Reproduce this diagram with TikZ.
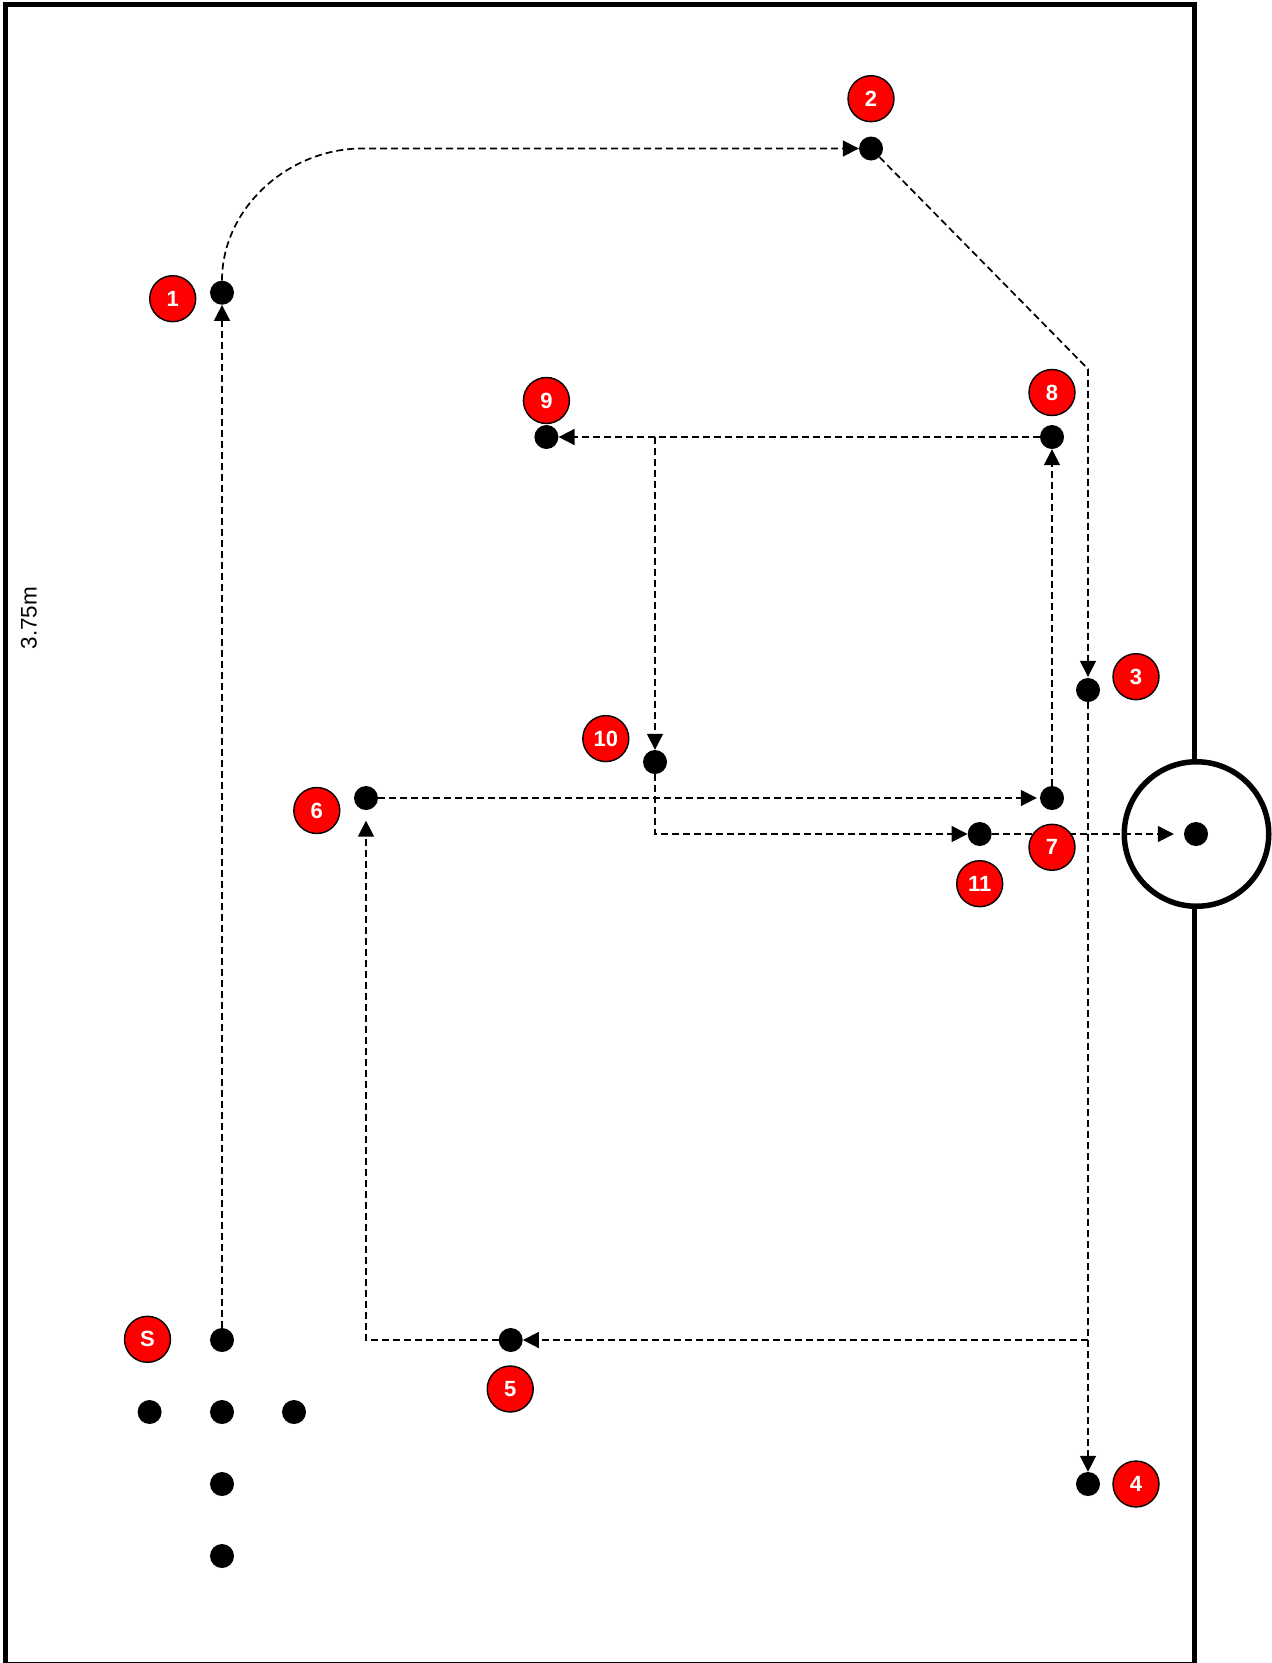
\documentclass[tikz,border=0pt]{standalone}
\usepackage{fontspec}
\setmainfont{Liberation Sans}
\usetikzlibrary{arrows.meta}

\begin{document}
\begin{tikzpicture}[x=1pt,y=-1pt,>={Triangle[length=16pt,width=16pt]}]
    \tikzset{
        frameline/.style={draw,line width=5pt},
        goal/.style={
            circle,
            draw,
            line width=5.5pt,
            fill=white,
            inner sep=0pt,
            minimum size=144.5pt
        },
        spot/.style={
            circle,
            fill=black,
            inner sep=0pt,
            minimum size=24pt
        },
        badge/.style={
            circle,
            draw,
            line width=1.4pt,
            fill=red,
            text=white,
            inner sep=0pt,
            minimum size=46pt,
            font=\fontsize{22}{24}\selectfont\bfseries
        },
        run/.style={draw,line width=1.7pt,dash pattern=on 7pt off 4pt}
    }

    \useasboundingbox (0,0) rectangle (1272,1663);
    \draw[frameline] (5,4) rectangle (1194,1664);
    \node[goal] (goalring) at (1196.5,834) {};
    \node[rotate=90,font=\fontsize{22.5}{24}\selectfont] (width) at (29,618) {3.75m};

    \node[spot] (start) at (222,1340) {};
    \node[spot] (rowleft) at (149.6,1412) {};
    \node[spot] (rowmid) at (222,1412) {};
    \node[spot] (rowright) at (294,1412) {};
    \node[spot] (rowthree) at (222,1484) {};
    \node[spot] (rowfour) at (222,1556) {};

    \node[spot] (dot1) at (222,292.7) {};
    \node[spot] (dot2) at (871,148.5) {};
    \node[spot] (dot3) at (1088,690) {};
    \node[spot] (dot4) at (1088,1484) {};
    \node[spot] (dot5) at (510.7,1340) {};
    \node[spot] (dot6) at (366,798) {};
    \node[spot] (dot7) at (1052,798) {};
    \node[spot] (dot8) at (1052,437) {};
    \node[spot] (dot9) at (546.4,437) {};
    \node[spot] (dot10) at (655,762) {};
    \node[spot] (dot11) at (979.7,834) {};
    \node[spot] (goaldot) at (1196,834) {};

    \coordinate (bend1) at (362,148.5);
    \coordinate (bend2) at (1088,369);
    \coordinate (split5) at (dot3 |- dot5);
    \coordinate (split10) at (dot10 |- dot8);

    \draw[run,->] (start) -- (dot1);
    \draw[run,->] (dot1.north) .. controls +(0,-73) and +(-73,0) .. (bend1) -- (dot2);
    \draw[run,->,shorten >=1pt] (dot2) -- (bend2) -- (dot3);
    \draw[run,->] (dot3) -- (dot4);
    \draw[run,->] (split5) -- (dot5);
    \draw[run,->,shorten >=10.5pt] (dot5) -| (dot6);
    \draw[run,->,shorten >=3pt] (dot6) -- (dot7);
    \draw[run,->] (dot7) -- (dot8);
    \draw[run,->] (dot8) -- (dot9);
    \draw[run,->] (split10) -- (dot10);
    \draw[run,->] (dot10) |- (dot11);
    \draw[run,->,shorten >=10pt] (dot11) -- (goaldot);

    \node[badge] (badgeS) at (147.5,1339.3) {S};
    \node[badge] (badge1) at (172.7,298.7) {1};
    \node[badge] (badge2) at (871,98.7) {2};
    \node[badge] (badge3) at (1136,676.7) {3};
    \node[badge] (badge4) at (1136,1484) {4};
    \node[badge] (badge5) at (510.2,1389) {5};
    \node[badge] (badge6) at (316.8,810.5) {6};
    \node[badge] (badge7) at (1052,847.3) {7};
    \node[badge] (badge8) at (1052,392.5) {8};
    \node[badge] (badge9) at (546.4,400.5) {9};
    \node[badge] (badge10) at (605.8,738.6) {10};
    \node[badge] (badge11) at (979.7,883.7) {11};
\end{tikzpicture}
\end{document}
